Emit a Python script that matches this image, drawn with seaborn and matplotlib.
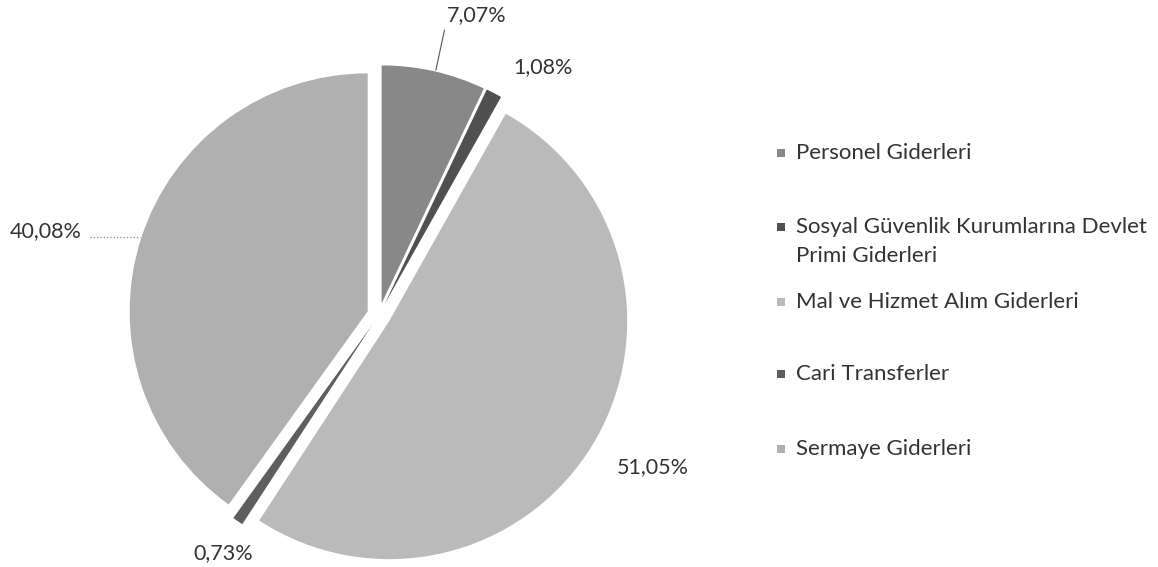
import matplotlib
matplotlib.use("Agg")
import matplotlib.pyplot as plt
import seaborn as sns
from matplotlib.patches import Rectangle

# Expense shares (percent)
categories = ["Personel Giderleri",
              "Sosyal Güvenlik Kurumlarına Devlet\nPrimi Giderleri",
              "Mal ve Hizmet Alım Giderleri",
              "Cari Transferler",
              "Sermaye Giderleri"]
shares = [7.07, 1.08, 51.05, 0.73, 40.08]
share_labels = ["7,07%", "1,08%", "51,05%", "0,73%", "40,08%"]

# Styling / layout
colors = ["#888888", "#505050", "#bababa", "#5e5e5e", "#b0b0b0"]
explode = [0.05] * len(shares)
label_pos = [(0.41, 1.26), (0.69, 1.04), (1.15, -0.64), (-0.655, -1.0), (-1.40, 0.353)]
legend_y = [153, 227, 302, 374, 449]   # pixel rows (from top) of first line
line_gap = 29

sns.set_theme(style="white")
plt.rcParams["font.family"] = ["Lato", "DejaVu Sans"]

fig = plt.figure(figsize=(11.58, 5.67), dpi=100)
W, H = 1158, 567
cx, cy, R = 379, 315, 238
ax = fig.add_axes([0, 0, 800 / W, 1])

wedges, _ = ax.pie(shares, colors=colors, explode=explode, startangle=90,
                   counterclock=False, wedgeprops=dict(linewidth=0))

# pie() resets limits, so set them afterwards
ax.set_xlim(-cx / R, (800 - cx) / R)
ax.set_ylim(-(H - cy) / R, cy / R)
ax.set_aspect("auto")
ax.axis("off")

for txt, (x, y) in zip(share_labels, label_pos):
    ax.text(x, y, txt, ha="center", va="center", fontsize=15.5, color="#333333")

# leader lines
ax.plot([0.275, 0.239], [1.197, 1.029], color="#555555", lw=0.8)
ax.plot([-1.214, -1.006], [0.328, 0.328], color="#888888", lw=0.9, ls=":")

# legend drawn by hand to follow the reference spacing
for name, col, yp in zip(categories, colors, legend_y):
    fig.patches.append(Rectangle((777 / W, 1 - (yp + 4) / H), 8 / W, 8 / H,
                                 transform=fig.transFigure, facecolor=col,
                                 edgecolor="none"))
    for i, line in enumerate(name.split("\n")):
        fig.text(796 / W, 1 - (yp + i * line_gap) / H, line, ha="left",
                 va="center", fontsize=16, color="#333333")

fig.savefig("out.png", dpi=100)
